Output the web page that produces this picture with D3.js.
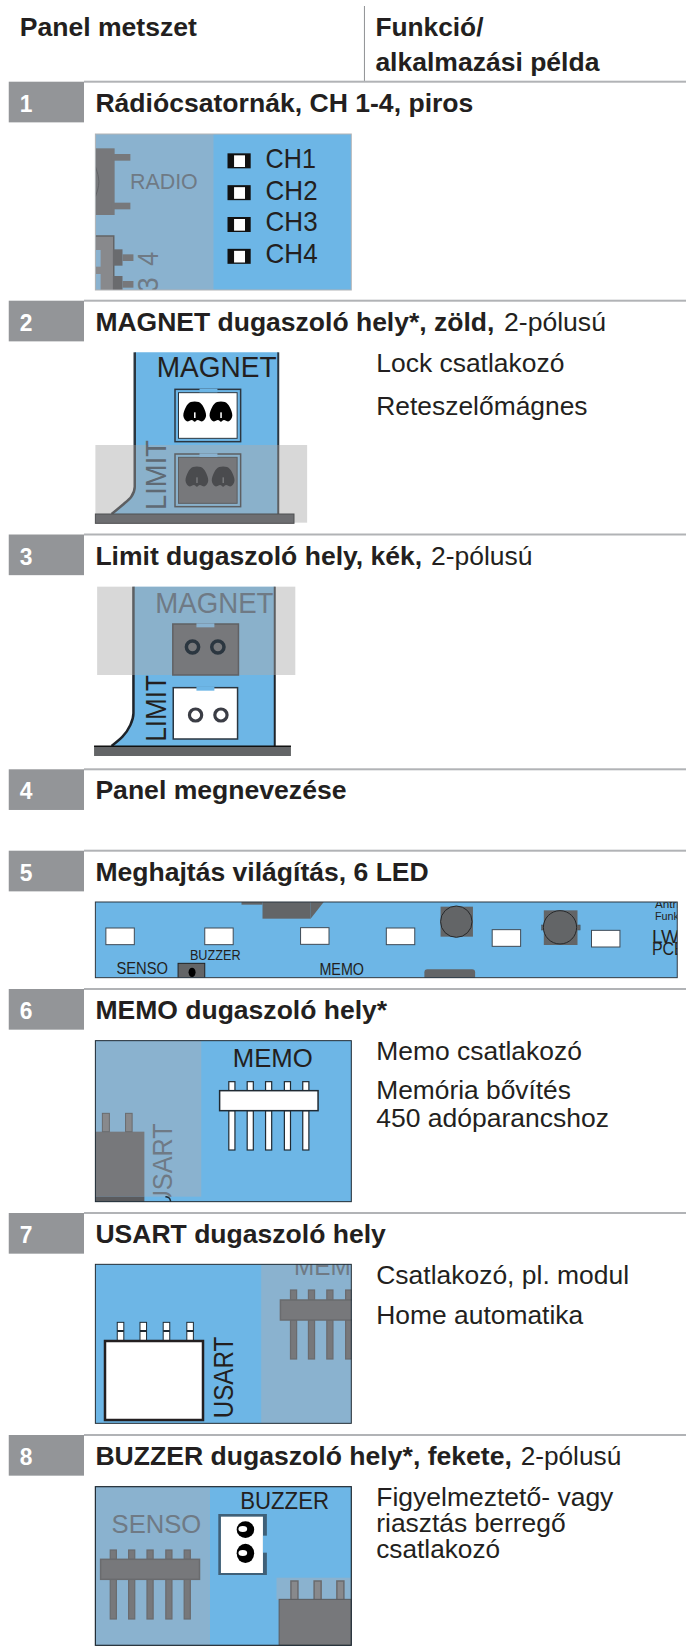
<!DOCTYPE html>
<html>
<head>
<meta charset="utf-8">
<script src="https://cdn.jsdelivr.net/npm/d3@7"></script>
<style>
html,body{margin:0;padding:0;background:#fff}
svg{display:block}
text{font-family:"Liberation Sans",Arial,sans-serif}
</style>
</head>
<body>
<div id="chart"></div>
<script>
// table content
var headerLeft = "Panel metszet"
var headerRight = ["Funkció/", "alkalmazási példa"]
var rowNumbers = ["1", "2", "3", "4", "5", "6", "7", "8"]
var rowTitles = [
  "Rádiócsatornák, CH 1-4, piros",
  "MAGNET dugaszoló hely*, zöld,",
  "Limit dugaszoló hely, kék,",
  "Panel megnevezése",
  "Meghajtás világítás, 6 LED",
  "MEMO dugaszoló hely*",
  "USART dugaszoló hely",
  "BUZZER dugaszoló hely*, fekete,"
]
var rowSuffixes = ["", "2-pólusú", "2-pólusú", "", "", "", "", "2-pólusú"]
var channelLabels = ["CH1", "CH2", "CH3", "CH4"]
var magnetNotes = ["Lock csatlakozó", "Reteszelőmágnes"]
var memoNotes = ["Memo csatlakozó", "Memória bővítés", "450 adóparancshoz"]
var usartNotes = ["Csatlakozó, pl. modul", "Home automatika"]
var buzzerNotes = ["Figyelmeztető- vagy", "riasztás berregő", "csatlakozó"]

// layout, full size px
var w = 686, h = 1648
var rowTops = [81.7, 300.7, 534.5, 769.3, 850.7, 989, 1213, 1435]
var titleEnds = [1082, 1130, 965, 792, 980, 885, 882, 1170]
var suffixStarts = [0, 1152, 985, 0, 0, 0, 0, 1190]
var suffixEnds = [0, 1385, 1217, 0, 0, 0, 0, 1420]

var blue = "#6db6e6", faded = "#8ab2cf", grey = "#77787b", dark = "#231f20"
var fadedText = "#6f7a85", base = "#636567"

var svg = d3.select("#chart").append("svg").attr("width", w).attr("height", h)

// the crops I measured on are 1568 wide and 3x tall
var sx = d3.scaleLinear().domain([0, 1568]).range([0, w])
var clipCount = 0

function crop(top, parent) {
  var sy = d3.scaleLinear().domain([0, 3]).range([top, top + 1])
  var g = parent || svg
  var api = {
    sy: sy,
    g: g,
    rect: function(x0, y0, x1, y1, fill, stroke, sw, r) {
      return g.append("rect").attr("x", sx(x0)).attr("y", sy(y0))
        .attr("width", sx(x1) - sx(x0)).attr("height", sy(y1) - sy(y0))
        .attr("fill", fill || "none").attr("stroke", stroke || "none")
        .attr("stroke-width", sw || 1).attr("rx", r || 0)
    },
    line: function(pts, stroke, sw, curve) {
      var l = d3.line().x(function(d){return sx(d[0])}).y(function(d){return sy(d[1])})
      if (curve) l.curve(curve)
      return g.append("path").attr("d", l(pts)).attr("fill", "none")
        .attr("stroke", stroke).attr("stroke-width", sw || 1)
    },
    shape: function(pts, fill, curve) {
      var l = d3.line().x(function(d){return sx(d[0])}).y(function(d){return sy(d[1])})
        .curve(curve || d3.curveLinearClosed)
      return g.append("path").attr("d", l(pts)).attr("fill", fill)
    },
    ellipse: function(cx, cy, rx, ry, fill, stroke, sw) {
      return g.append("ellipse").attr("cx", sx(cx)).attr("cy", sy(cy))
        .attr("rx", sx(rx)).attr("ry", ry / 3).attr("fill", fill)
        .attr("stroke", stroke || "none").attr("stroke-width", sw || 1)
    },
    // horizontal text fitted between x0 and x1, cap is the cap height in crop units
    text: function(str, x0, x1, y, cap, fill, bold) {
      return g.append("text").attr("x", sx(x0)).attr("y", sy(y))
        .attr("font-size", cap / 3 / 0.7)
        .attr("font-weight", bold ? "bold" : "normal")
        .attr("fill", fill || dark)
        .attr("textLength", sx(x1) - sx(x0)).attr("lengthAdjust", "spacingAndGlyphs")
        .text(str)
    },
    // text running upwards, xb is the baseline, y0 the bottom end, y1 the top end
    upText: function(str, xb, y0, y1, capx, fill) {
      return g.append("text")
        .attr("transform", "translate(" + sx(xb) + "," + sy(y0) + ") rotate(-90)")
        .attr("font-size", sx(capx) / 0.7)
        .attr("fill", fill || dark)
        .attr("textLength", sy(y0) - sy(y1)).attr("lengthAdjust", "spacingAndGlyphs")
        .text(str)
    },
    clip: function(x0, y0, x1, y1) {
      var id = "clip" + (clipCount++)
      svg.append("clipPath").attr("id", id).append("rect")
        .attr("x", sx(x0)).attr("y", sy(y0))
        .attr("width", sx(x1) - sx(x0)).attr("height", sy(y1) - sy(y0))
      return crop(top, g.append("g").attr("clip-path", "url(#" + id + ")"))
    }
  }
  return api
}

function blob(c, cx, cy, fill, dot) {
  // pin outline of the 2 pole plugs, rounded top and flat feet
  var pts = [[-26,12],[-20,-14],[-9,-29],[9,-29],[20,-14],[26,12],[18,29],[7,25],[0,30],[-7,25],[-18,29]]
  c.shape(pts.map(function(p){return [cx + p[0], cy + p[1]]}), fill, d3.curveCardinalClosed)
  c.rect(cx - 1.5, cy + 2, cx + 2, cy + 19, dot)
}

// header
var top0 = crop(0)
top0.text(headerLeft, 45, 450, 107, 55, dark, true)
top0.text(headerRight[0], 858, 1105, 107, 55, dark, true)
top0.text(headerRight[1], 858, 1370, 213, 55, dark, true)
top0.line([[833, 18], [833, 245]], "#8f9194", 1)

// rows
var rows = svg.selectAll("g.row").data(rowNumbers).enter().append("g").attr("class", "row")
rows.each(function(n, i) {
  var c = crop(rowTops[i], d3.select(this))
  c.rect(192, -3, 1568, 3, "#b1b3b6")
  c.rect(20, 0, 192, 122, "#939598")
  c.text(n, 45, 74, 90, 52, "#fff", true)
  c.text(rowTitles[i], 218, titleEnds[i], 90, 55, dark, true)
  if (rowSuffixes[i]) c.text(rowSuffixes[i], suffixStarts[i], suffixEnds[i], 90, 55, dark, false)
})

// 1 radio channels
;(function() {
  var o = crop(0)
  var c = o.clip(218, 402, 803, 870)
  c.rect(218, 402, 803, 870, blue)
  c.rect(218, 402, 488, 870, faded)
  c.rect(205, 445, 262, 645, grey)
  c.rect(255, 462, 298, 482, grey)
  c.rect(255, 608, 298, 628, grey)
  c.line([[218, 500], [230, 545], [218, 590]], "#606164", 1, d3.curveBasis)
  c.text("RADIO", 297, 452, 567, 47, fadedText)
  c.rect(205, 708, 260, 880, "#88898c", "#636466", 1.5)
  c.rect(218, 750, 230, 800, faded)
  c.rect(218, 822, 230, 880, faded)
  c.rect(258, 748, 280, 797, "#6a6b6e")
  c.rect(280, 763, 305, 783, grey)
  c.rect(258, 828, 280, 880, "#6a6b6e")
  c.rect(280, 843, 305, 863, grey)
  c.upText("4", 361, 797, 755, 48, fadedText)
  c.upText("3", 361, 877, 832, 48, fadedText)
  c.g.selectAll("g.ch").data(channelLabels).enter().append("g").attr("class", "ch").each(function(d, i) {
    var off = i * 95.5
    var k = crop(0, d3.select(this))
    k.rect(520, 460 + off, 573, 505 + off, "#111")
    k.rect(535, 466 + off, 560, 501 + off, "#fff")
    k.text(d, 607, i ? 726 : 722, 503 + off, 57, dark)
  })
  o.rect(218, 402, 803, 870, "none", "#b1b3b6", 1)
})()

function plugTop(c, x0, x1, y0, y1, fill, stroke, bg) {
  // socket with two small tabs on top
  c.rect(x0, y0, x1, y1, "none", stroke, 1.5)
  c.rect(x0 + 8, y0 + 10, x1 - 8, y1 - 10, fill, stroke, 1)
  c.rect(x0 + 56, y0 - 2, x1 - 53, y0 + 9, bg)
}

// 2 magnet
;(function() {
  var c = crop(300)
  var edge = [[308, 157], [308, 560], [300, 590], [280, 615], [255, 642]]
  c.shape(edge.concat([[636, 642], [636, 157]]), blue)
  c.line([[308, 157], [308, 435]], "#2b3640", 2.5)
  c.line([[636, 157], [636, 435]], "#2b3640", 2)
  c.text("MAGNET", 358, 632, 232, 60, dark)
  plugTop(c, 400, 550, 268, 425, "#fff", "#2b3640", blue)
  blob(c, 445, 335, "#000", "#fff")
  blob(c, 505, 335, "#000", "#fff")
  c.rect(218, 435, 702, 668, "#ababab").attr("fill-opacity", 0.466)
  c.line([[308, 435], [308, 560], [300, 590], [280, 615], [255, 642]], "#5d5f62", 2.5, d3.curveMonotoneY)
  c.line([[636, 435], [636, 642]], "#5d5f62", 2)
  c.upText("LIMIT", 380, 630, 420, 46, "#5f6a74")
  plugTop(c, 400, 550, 462, 620, grey, "#5d5f62", faded)
  blob(c, 450, 530, "#4a4b4e", grey)
  blob(c, 510, 530, "#4a4b4e", grey)
  c.rect(218, 642, 672, 670, "#6d6e71", "#4f5052", 1)
})()

// 3 limit
;(function() {
  var c = crop(540)
  var edge = [[305, 140], [305, 520], [298, 555], [280, 590], [255, 618]]
  c.shape(edge.concat([[628, 618], [628, 140]]), blue)
  c.rect(222, 140, 675, 405, "#ababab").attr("fill-opacity", 0.466)
  c.line([[305, 140], [305, 405]], "#5d5f62", 2.5)
  c.line([[628, 140], [628, 405]], "#5d5f62", 2)
  c.line([[305, 405], [305, 520], [298, 555], [280, 590], [255, 618]], "#1e2329", 2.5, d3.curveMonotoneY)
  c.line([[628, 405], [628, 618]], "#1e2329", 2)
  c.text("MAGNET", 355, 625, 218, 60, fadedText)
  c.rect(395, 252, 545, 405, grey, "#606164", 1.5)
  c.rect(449, 250, 490, 262, faded)
  c.ellipse(440, 321, 14, 18, grey, "#2b3640", 3.5)
  c.ellipse(498, 321, 14, 18, grey, "#2b3640", 3.5)
  c.upText("LIMIT", 380, 605, 405, 46, dark)
  c.rect(396, 443, 543, 597, "#fff", "#2b3640", 1.5)
  c.rect(449, 440, 490, 452, blue)
  c.ellipse(447, 525, 14, 18, "#fff", "#3b3d45", 3.2)
  c.ellipse(505, 525, 14, 18, "#fff", "#3b3d45", 3.2)
  c.rect(215, 618, 665, 648, base)
  c.line([[215, 619], [665, 619]], "#111", 1.5)
})()

// 5 led strip
;(function() {
  var o = crop(840)
  var c = o.clip(218, 186, 1548, 413)
  c.rect(218, 186, 1548, 413, blue)
  c.rect(600, 186, 710, 236, "#636567")
  c.shape([[710, 186], [740, 186], [710, 236]], "#636567")
  c.rect(552, 184, 600, 194, "#636567")
  var leds = [242, 468, 687, 883, 1125, 1352], ledY = [264, 264, 263, 264, 269, 271]
  leds.forEach(function(x, i) { c.rect(x, ledY[i], x + 65, ledY[i] + 50, "#fff", "#3f4a55", 1) })
  c.rect(1007, 200, 1081, 290, "#636567")
  c.ellipse(1043, 245, 36, 47, "#636567", "#26282a", 1)
  c.rect(1238, 255, 1326, 270, "#636567", "#3f4a55", 0.5)
  c.rect(1243, 211, 1320, 315, "#636567")
  c.ellipse(1280, 262, 38, 50, "#636567", "#26282a", 1)
  c.text("BUZZER", 434, 550, 360, 32, dark)
  c.text("SENSO", 266, 384, 402, 36, dark)
  c.text("MEMO", 730, 832, 405, 36, dark)
  c.text("LW-", 1490, 1565, 308, 38, dark)
  c.text("PCB", 1490, 1565, 346, 38, dark)
  c.text("Antri", 1497, 1552, 203, 22, dark)
  c.text("Funk", 1497, 1552, 240, 22, dark)
  c.rect(407, 370, 468, 420, "#636567", "#222", 1)
  c.ellipse(439, 397, 8, 14, "#000")
  c.rect(970, 388, 1086, 420, "#636567", null, null, 3)
  o.rect(218, 186, 1548, 413, "none", "#2b3640", 1)
})()

function header(c, pins, x0, x1, y0, y1, top, bottom, body, stroke, pinFill) {
  pins.forEach(function(x) {
    c.rect(x, top, x + 14, y0, pinFill, stroke, 1.2)
    c.rect(x, y1, x + 14, bottom, pinFill, stroke, 1.2)
  })
  c.rect(x0, y0, x1, y1, body, stroke, 1.5)
}

// 6 memo
;(function() {
  var o = crop(1000)
  o.rect(218, 122, 803, 605, blue)
  o.rect(218, 122, 460, 590, faded)
  o.text("MEMO", 532, 715, 200, 55, dark)
  header(o, [523, 565, 607, 650, 692], 502, 727, 272, 332, 245, 450, "#fff", "#1f2a33", "#fff")
  o.rect(218, 395, 330, 590, grey)
  o.rect(218, 590, 330, 605, "#5a5b5e")
  o.rect(234, 340, 250, 395, "#88898c", "#6a6b6e", 1)
  o.rect(287, 340, 302, 395, "#88898c", "#6a6b6e", 1)
  var c = o.clip(330, 340, 460, 590)
  c.upText("USART", 393, 625, 370, 45, fadedText)
  o.line([[378, 590], [388, 592], [390, 605]], "#1f2a33", 1.5, d3.curveBasis)
  o.rect(218, 122, 803, 605, "none", "#1f2a33", 1)
})()

// 7 usart
;(function() {
  var o = crop(1210)
  var c = o.clip(218, 163, 803, 640)
  c.rect(218, 163, 803, 640, blue)
  c.rect(597, 163, 803, 640, faded)
  c.text("MEMO", 672, 845, 195, 55, fadedText)
  header(c, [664, 705, 747, 790], 641, 820, 270, 330, 240, 447, grey, "#6a6b6e", grey)
  ;[268, 320, 373, 427].forEach(function(x) {
    c.rect(x, 337, x + 15, 393, "#fff", "#1f2a33", 1)
    c.rect(x, 360, x + 15, 366, "#1f2a33")
  })
  c.rect(240, 393, 464, 630, "#fff", dark, 2.5)
  c.upText("USART", 533, 625, 380, 45, dark)
  o.rect(218, 163, 803, 640, "none", "#1f2a33", 1)
})()

// 8 buzzer
;(function() {
  var o = crop(1420)
  var c = o.clip(218, 200, 803, 676)
  c.rect(218, 200, 803, 676, blue)
  c.rect(218, 200, 480, 676, faded)
  c.text("BUZZER", 549, 752, 267, 50, dark)
  c.text("SENSO", 255, 460, 338, 55, fadedText)
  header(c, [252, 294, 336, 379, 421], 230, 456, 418, 478, 390, 597, grey, "#6a6b6e", grey)
  c.rect(499, 282, 610, 465, "#3f6078")
  c.rect(505, 290, 601, 459, "#fff")
  c.rect(601, 347, 612, 398, blue)
  c.rect(601, 347, 601, 398, "#fff")
  c.ellipse(561, 329, 20, 25, "#000")
  c.ellipse(561, 400, 20, 29, "#000")
  c.ellipse(555, 327, 10, 9, "#fff")
  c.ellipse(555, 399, 10, 9, "#fff")
  c.rect(632, 473, 803, 540, faded)
  ;[665, 718, 770].forEach(function(x) { c.rect(x, 483, x + 16, 540, "#88898c", "#6a6b6e", 1.5) })
  c.rect(638, 538, 803, 676, grey, "#5a5b5e", 1)
  o.rect(218, 200, 803, 676, "none", "#1f2a33", 1.2)
})()

// notes on the right
var noteX0 = 860
function notes(top, list, ends, bases) {
  var c = crop(top)
  list.forEach(function(t, i) { c.text(t, noteX0, ends[i], bases[i], 55, dark) })
}
notes(300, magnetNotes, [1290, 1343], [215, 345])
notes(1000, memoNotes, [1330, 1305, 1392], [180, 298, 380])
notes(1210, usartNotes, [1438, 1333], [222, 342])
notes(1420, buzzerNotes, [1402, 1293, 1143], [257, 335, 415])
</script>
</body>
</html>
